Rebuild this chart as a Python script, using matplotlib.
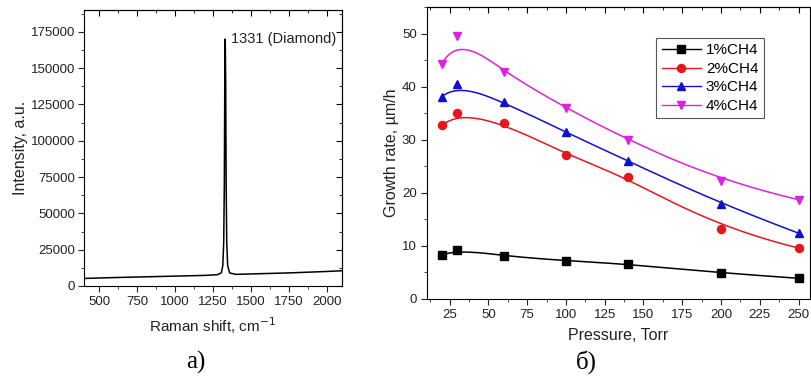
import numpy as np
import matplotlib
matplotlib.use("Agg")
import matplotlib.pyplot as plt
from matplotlib.ticker import MultipleLocator

plt.rcParams['font.family'] = ['Liberation Sans', 'DejaVu Sans']

# ---- Panel a) Raman spectrum (points read from picture) ----
raman_shift = [400, 600, 800, 1000, 1200, 1280, 1305, 1315, 1321, 1325, 1328, 1331,
               1334, 1337, 1341, 1347, 1360, 1400, 1500, 1750, 2000, 2100]
intensity = [5200, 5800, 6300, 6800, 7300, 7800, 9000, 14000, 30000, 70000, 140000, 170000,
             140000, 70000, 30000, 14000, 9000, 8000, 8300, 9000, 10000, 10500]

# ---- Panel b) Growth rate vs pressure ----
pressure = [20, 30, 60, 100, 140, 200, 250]
ch4_1 = [8.3, 9.3, 8.1, 7.2, 6.6, 4.9, 3.9]
ch4_2 = [32.7, 35.1, 33.2, 27.2, 22.9, 13.2, 9.6]
ch4_3 = [38.1, 40.5, 37.1, 31.4, 26.0, 17.9, 12.4]
ch4_4 = [44.3, 49.5, 42.7, 36.0, 29.9, 22.2, 18.7]
labels = ['1%CH4', '2%CH4', '3%CH4', '4%CH4']
colors = ['black', '#e8161a', '#1010cc', '#e020e0']
markers = ['s', 'o', '^', 'v']


def bspline(xs, ys, num=300, k=3):
    """Clamped B-spline using data points as control points (Origin-style)."""
    P = np.column_stack([xs, ys]).astype(float)
    n = len(P)
    inner = np.arange(1, n - k)
    t = np.concatenate([np.zeros(k + 1), inner, np.full(k + 1, n - k)]).astype(float)
    u = np.linspace(0, n - k, num)
    u[-1] -= 1e-9

    def basis(i, kk, uu):
        if kk == 0:
            return ((t[i] <= uu) & (uu < t[i + 1])).astype(float)
        a = np.zeros_like(uu)
        b = np.zeros_like(uu)
        if t[i + kk] != t[i]:
            a = (uu - t[i]) / (t[i + kk] - t[i]) * basis(i, kk - 1, uu)
        if t[i + kk + 1] != t[i + 1]:
            b = (t[i + kk + 1] - uu) / (t[i + kk + 1] - t[i + 1]) * basis(i + 1, kk - 1, uu)
        return a + b

    B = np.array([basis(i, k, u) for i in range(n)])
    C = B.T @ P
    return C[:, 0], C[:, 1]


TXT = '#222222'
fig = plt.figure(figsize=(8.12, 3.87), dpi=100)

# Left axes
ax1 = fig.add_axes([0.1034, 0.261, 0.3177, 0.713])
ax1.plot(raman_shift, intensity, color='black', lw=1.1)
ax1.set_xlim(400, 2100)
ax1.set_ylim(0, 190000)
ax1.set_xticks([500, 750, 1000, 1250, 1500, 1750, 2000])
ax1.xaxis.set_minor_locator(MultipleLocator(125))
ax1.yaxis.set_major_locator(MultipleLocator(25000))
ax1.yaxis.set_minor_locator(MultipleLocator(12500))
ax1.tick_params(axis='both', which='both', labelsize=9.5, colors=TXT, direction='out')
ax1.tick_params(which='major', length=4)
ax1.tick_params(which='minor', length=2.5)
ax1.tick_params(axis='y', pad=2.5)
ax1.text(1370, 170000, '1331 (Diamond)', fontsize=10.5, va='center', ha='left', color=TXT)
ax1.set_xlabel('Raman shift, cm$^{-1}$', fontsize=11, color=TXT, labelpad=5)
ax1.set_ylabel('Intensity, a.u.', fontsize=11.5, color=TXT, labelpad=2)

# Right axes
ax2 = fig.add_axes([0.526, 0.2274, 0.4717, 0.7545])
series = [ch4_1, ch4_2, ch4_3, ch4_4]
for ys, lab, c, m in zip(series, labels, colors, markers):
    sx, sy = bspline(pressure, ys)
    ax2.plot(sx, sy, color=c, lw=1.1)
    ax2.plot(pressure, ys, linestyle='none', marker=m, color=c, markersize=5.8)
    ax2.plot([], [], color=c, lw=1.0, marker=m, markersize=5.8, label=lab)
ax2.set_xlim(10.5, 257.5)
ax2.set_ylim(0, 55)
ax2.set_xticks([25, 50, 75, 100, 125, 150, 175, 200, 225, 250])
ax2.xaxis.set_minor_locator(MultipleLocator(12.5))
ax2.yaxis.set_major_locator(MultipleLocator(10))
ax2.yaxis.set_minor_locator(MultipleLocator(5))
ax2.tick_params(axis='both', which='both', labelsize=9.5, colors=TXT, direction='out')
ax2.tick_params(which='major', length=4)
ax2.tick_params(which='minor', length=2.5)
ax2.set_xlabel('Pressure, Torr', fontsize=11.5, color=TXT, labelpad=5)
ax2.set_ylabel('Growth rate, µm/h', fontsize=11.5, color=TXT, labelpad=2)
leg = ax2.legend(loc='upper left', bbox_to_anchor=(0.598, 0.894), borderaxespad=0, fontsize=11,
                 fancybox=False, edgecolor='#555555', framealpha=1,
                 handlelength=2.6, borderpad=0.35, labelspacing=0.3, handletextpad=0.3)
leg.get_frame().set_linewidth(0.8)

# Inward ticks on top (both) and right (left panel)
for ax in (ax1, ax2):
    sx = ax.secondary_xaxis('top')
    sx.set_xticks(ax.get_xticks())
    sx.xaxis.set_minor_locator(ax.xaxis.get_minor_locator())
    sx.tick_params(which='both', direction='in', length=4)
    sx.tick_params(which='minor', length=2.5)
    sx.set_xticklabels([])
sy = ax1.secondary_yaxis('right')
sy.set_yticks(ax1.get_yticks())
sy.yaxis.set_minor_locator(ax1.yaxis.get_minor_locator())
sy.tick_params(which='both', direction='in', length=4)
sy.tick_params(which='minor', length=2.5)
sy.set_yticklabels([])

fig.text(196 / 812, 1 - 362 / 387, 'a)', fontsize=18, family=['Liberation Serif'], ha='center', va='center')
fig.text(586 / 812, 1 - 362 / 387, 'б)', fontsize=18, family=['Liberation Serif'], ha='center', va='center')

fig.savefig('out.png', dpi=100)
